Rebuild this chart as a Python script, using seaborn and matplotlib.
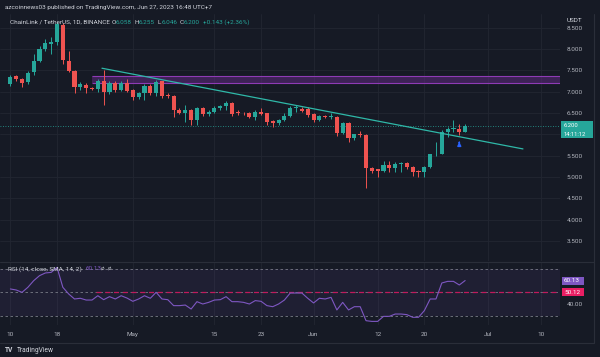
import pandas as pd
import matplotlib
matplotlib.use("Agg")
import matplotlib.pyplot as plt
import seaborn as sns
from matplotlib.patches import Rectangle
from matplotlib.lines import Line2D

# daily candles LINK/USDT, 10 Apr - 27 Jun 2023
opens = [7.18, 7.36, 7.29, 7.22, 7.45, 7.73, 8.00, 8.12, 8.16, 8.56,
         7.73, 7.49, 7.10, 7.16, 7.09, 7.06, 7.24, 6.99, 7.20, 7.04,
         7.20, 7.03, 6.88, 6.96, 7.14, 6.96, 7.24, 6.93, 6.90, 6.58,
         6.51, 6.58, 6.34, 6.61, 6.48, 6.53, 6.62, 6.66, 6.74, 6.53,
         6.50, 6.50, 6.41, 6.52, 6.49, 6.31, 6.26, 6.34, 6.43, 6.63,
         6.60, 6.60, 6.47, 6.34, 6.44, 6.41, 6.41, 6.04, 6.26, 5.91,
         6.00, 5.98, 5.22, 5.18, 5.15, 5.28, 5.22, 5.30, 5.32, 5.24,
         5.15, 5.11, 5.24, 5.53, 5.55, 6.05, 6.12, 6.13, 6.058]
highs = [7.38, 7.40, 7.32, 7.49, 7.88, 8.08, 8.23, 8.27, 8.64, 8.60,
         7.96, 7.52, 7.22, 7.20, 7.12, 7.30, 7.52, 7.24, 7.24, 7.24,
         7.29, 7.06, 7.00, 7.18, 7.18, 7.28, 7.26, 6.97, 6.92, 6.62,
         6.69, 6.60, 6.64, 6.64, 6.56, 6.66, 6.70, 6.78, 6.76, 6.56,
         6.52, 6.53, 6.58, 6.61, 6.51, 6.34, 6.36, 6.49, 6.66, 6.68,
         6.64, 6.64, 6.49, 6.46, 6.46, 6.49, 6.44, 6.28, 6.28, 6.02,
         6.08, 6.00, 5.24, 5.20, 5.37, 5.37, 5.36, 5.36, 5.36, 5.26,
         5.17, 5.26, 5.55, 5.82, 6.10, 6.18, 6.33, 6.24, 6.255]
lows = [7.14, 7.26, 7.12, 7.18, 7.40, 7.70, 7.96, 7.88, 8.10, 7.65,
        7.45, 6.97, 7.05, 6.97, 7.03, 6.99, 6.70, 6.95, 7.00, 7.02,
        7.00, 6.81, 6.84, 6.81, 6.92, 6.90, 6.86, 6.86, 6.40, 6.48,
        6.30, 6.22, 6.22, 6.44, 6.42, 6.50, 6.56, 6.56, 6.42, 6.46,
        6.46, 6.38, 6.34, 6.45, 6.22, 6.18, 6.23, 6.32, 6.40, 6.52,
        6.52, 6.41, 6.30, 6.32, 6.38, 6.36, 5.97, 6.00, 5.83, 5.88,
        5.95, 4.74, 5.10, 5.01, 5.12, 5.12, 5.12, 5.12, 5.20, 5.03,
        5.01, 5.01, 5.22, 5.50, 5.53, 5.93, 6.06, 5.98, 6.046]
closes = [7.34, 7.30, 7.21, 7.44, 7.73, 8.00, 8.13, 8.16, 8.58, 7.74,
          7.49, 7.10, 7.18, 7.09, 7.06, 7.26, 6.99, 7.20, 7.05, 7.20,
          7.02, 6.88, 6.98, 7.14, 6.96, 7.22, 6.90, 6.90, 6.57, 6.51,
          6.57, 6.34, 6.61, 6.48, 6.53, 6.62, 6.66, 6.74, 6.48, 6.49,
          6.49, 6.41, 6.53, 6.47, 6.30, 6.26, 6.34, 6.43, 6.63, 6.64,
          6.55, 6.45, 6.34, 6.43, 6.41, 6.44, 6.04, 6.26, 5.91, 6.00,
          5.98, 5.21, 5.14, 5.15, 5.28, 5.22, 5.30, 5.32, 5.24, 5.11,
          5.11, 5.24, 5.53, 5.55, 6.05, 6.12, 6.14, 6.06, 6.200]
rsi = [52.9, 52.0, 50.0, 54.3, 60.0, 64.3, 66.6, 67.1, 71.4, 54.3,
       48.6, 44.3, 44.9, 43.4, 43.4, 47.1, 43.7, 46.3, 44.3, 47.1,
       45.1, 42.3, 44.3, 47.1, 44.9, 50.0, 44.3, 43.7, 38.6, 38.6,
       39.1, 35.7, 42.0, 40.0, 41.4, 43.4, 43.7, 46.3, 42.0, 42.0,
       41.4, 40.0, 42.9, 42.3, 38.6, 37.7, 40.0, 43.4, 49.4, 49.4,
       49.4, 44.9, 40.9, 44.9, 44.3, 45.7, 34.9, 41.4, 34.9, 37.7,
       37.7, 25.7, 25.1, 25.1, 29.4, 29.4, 31.4, 31.4, 30.9, 28.6,
       28.6, 34.3, 44.3, 44.3, 58.0, 59.4, 59.4, 56.3, 60.1]
dates = pd.date_range("2023-04-10", periods=len(closes), freq="D")

price_ticks = [3.5, 4.0, 4.5, 5.0, 5.5, 6.0, 6.5, 7.0, 7.5, 8.0, 8.5]
# 6.000 sits under the last-price badge, so its label stays blank
price_labels = ["3.500", "4.000", "4.500", "5.000", "5.500", "", "6.500",
                "7.000", "7.500", "8.000", "8.500"]
date_ticks = pd.to_datetime(["2023-04-10", "2023-04-18", "2023-05-01", "2023-05-15",
                             "2023-05-23", "2023-06-01", "2023-06-12", "2023-06-20",
                             "2023-07-01", "2023-07-10"])
date_labels = ["10", "18", "May", "15", "23", "Jun", "12", "20", "Jul", "10"]

# drawings on the chart
trend_x = pd.to_datetime(["2023-04-25 17:00", "2023-07-06 22:00"])
trend_y = [7.55, 5.66]
zone_start = pd.Timestamp("2023-04-24")
zone_lo, zone_hi = 7.20, 7.37
arrow_date = pd.Timestamp("2023-06-26")
arrow_lo, arrow_hi = 5.74, 5.89
rsi_line = 50.12

BG = "#161a25"
GRID = "#222632"
TXT = "#b2b5be"
UP = "#26a69a"
DOWN = "#ef5350"
W, H = 600, 357

sns.set_theme(style="dark", rc={"axes.facecolor": BG, "figure.facecolor": BG})
plt.rcParams["font.family"] = ["Roboto", "DejaVu Sans"]


def box(x0, y0, x1, y1):
    return [x0 / W, 1 - y1 / H, (x1 - x0) / W, (y1 - y0) / H]


def ftext(x, y, s, **kw):
    kw.setdefault("color", TXT)
    kw.setdefault("fontsize", 4.6)
    kw.setdefault("va", "center")
    fig.text(x / W, 1 - y / H, s, **kw)


def frect(x0, y0, x1, y1, color):
    fig.add_artist(Rectangle((x0 / W, 1 - y1 / H), (x1 - x0) / W, (y1 - y0) / H,
                             transform=fig.transFigure, color=color, lw=0))


fig = plt.figure(figsize=(6, 3.57), dpi=100)
ax = fig.add_axes(box(0, 14, 560, 261))
ax_r = fig.add_axes(box(0, 262, 560, 325), sharex=ax)

x_left = dates[0] - pd.Timedelta(days=1.78)
x_right = dates[0] + pd.Timedelta(days=94.27)

# candles
colors = [UP if c >= o else DOWN for o, c in zip(opens, closes)]
bottoms = [min(o, c) for o, c in zip(opens, closes)]
heights = [max(abs(c - o), 0.012) for o, c in zip(opens, closes)]
ax.vlines(dates, lows, highs, colors=colors, lw=0.7, zorder=3)
ax.bar(dates, heights, bottom=bottoms, width=0.7, color=colors, lw=0, zorder=4)

# zone, trendline, price line, arrow
ax.fill_between([zone_start, x_right], zone_lo, zone_hi, color="#5e2a80", alpha=0.55, lw=0, zorder=2)
ax.hlines([zone_lo, zone_hi], zone_start, x_right, colors="#8e3bb5", lw=0.8, zorder=2)
sns.lineplot(x=trend_x, y=trend_y, ax=ax, color="#2fb8a8", lw=0.9, zorder=5)
ax.axhline(closes[-1], color=UP, lw=0.6, ls=(0, (1, 2)), zorder=2)
ax.annotate("", xy=(arrow_date, arrow_hi), xytext=(arrow_date, arrow_lo),
            arrowprops=dict(arrowstyle="-|>", color="#2962ff", lw=1.1, mutation_scale=5))

ax.set_xlim(x_left, x_right)
ax.set_ylim(3.035, 8.82)
ax.set_yticks(price_ticks)
ax.set_yticklabels(price_labels)
ax.yaxis.tick_right()
ax.tick_params(axis="y", length=0, pad=5, labelsize=4.6, labelcolor=TXT)
ax.tick_params(axis="x", length=0, labelbottom=False)
ax.set_xticks(date_ticks)
ax.grid(True, color=GRID, lw=0.6)
ax.set_xlabel("")
ax.set_ylabel("")
for s in ax.spines.values():
    s.set_visible(False)

# RSI pane
ax_r.axhspan(30, 70, color="#7e57c2", alpha=0.09, lw=0)
for lvl in (70, 50, 30):
    ax_r.axhline(lvl, color="#787b86", lw=0.6, ls=(0, (3, 3)))
ax_r.hlines(rsi_line, pd.Timestamp("2023-04-24 18:00"), x_right, colors="#c2185b", lw=0.9, ls=(0, (4, 3)))
sns.lineplot(x=dates, y=rsi, ax=ax_r, color="#7e57c2", lw=0.8)
ax_r.set_ylim(22, 76)
ax_r.set_yticks([40])
ax_r.set_yticklabels(["40.00"])
ax_r.yaxis.tick_right()
ax_r.tick_params(axis="y", length=0, pad=5, labelsize=4.6, labelcolor=TXT)
ax_r.set_xticks(date_ticks)
ax_r.set_xticklabels(date_labels)
ax_r.tick_params(axis="x", length=0, pad=5, labelsize=4.6, labelcolor=TXT)
ax_r.grid(True, axis="x", color=GRID, lw=0.6)
ax_r.grid(False, axis="y")
ax_r.set_xlabel("")
ax_r.set_ylabel("")
for s in ax_r.spines.values():
    s.set_visible(False)

# frame lines
fig.add_artist(Line2D([0, 594 / W], [1 - 261.5 / H] * 2, transform=fig.transFigure, color="#2a2e39", lw=0.8))
fig.add_artist(Line2D([594 / W] * 2, [1 - 14 / H, 1 - 343 / H], transform=fig.transFigure, color="#2a2e39", lw=0.8))
fig.add_artist(Line2D([0, 594 / W], [1 - 343 / H] * 2, transform=fig.transFigure, color="#2a2e39", lw=0.8))

# header texts
ftext(5, 8, "azcoinnews03 published on TradingView.com, Jun 27, 2023 16:48 UTC+7", color="#d1d4dc")
ftext(10, 22, "ChainLink / TetherUS, 1D, BINANCE", color="#d1d4dc")
for xx, lab, val in [(112, "O", "6.058"), (134.7, "H", "6.255"), (158, "L", "6.046"), (179.7, "C", "6.200")]:
    ftext(xx, 22, lab, color="#d1d4dc")
    ftext(xx + 3.6, 22, val, color=UP)
ftext(203, 22, "+0.143 (+2.36%)", color=UP)
ftext(567, 21, "USDT", color="#d1d4dc")

# last price badge
frect(561, 121.2, 593, 138.5, UP)
ftext(564, 125.6, "6.200", color="white", fontsize=4.2)
ftext(564, 134.0, "14:11:12", color="white", fontsize=4.2)

# RSI legend and badges
ftext(8, 269, "RSI (14, close, SMA, 14, 2)", color="#d1d4dc")
ftext(86, 269, "60.13", color="#7e57c2")
ftext(101, 269, "ø  ø", color=TXT)
frect(562, 276.7, 584, 285, "#7e57c2")
ftext(564, 281, "60.13", color="white")
frect(562, 288.3, 584, 296.3, "#e91e63")
ftext(564, 292.3, "50.12", color="white")

# footer
ftext(5, 350, "TV", color="#d1d4dc", fontweight="bold", fontsize=4.8)
ftext(17, 350, "TradingView", color="#d1d4dc", fontsize=4.8)

fig.savefig("out.png", dpi=100, facecolor=BG)
